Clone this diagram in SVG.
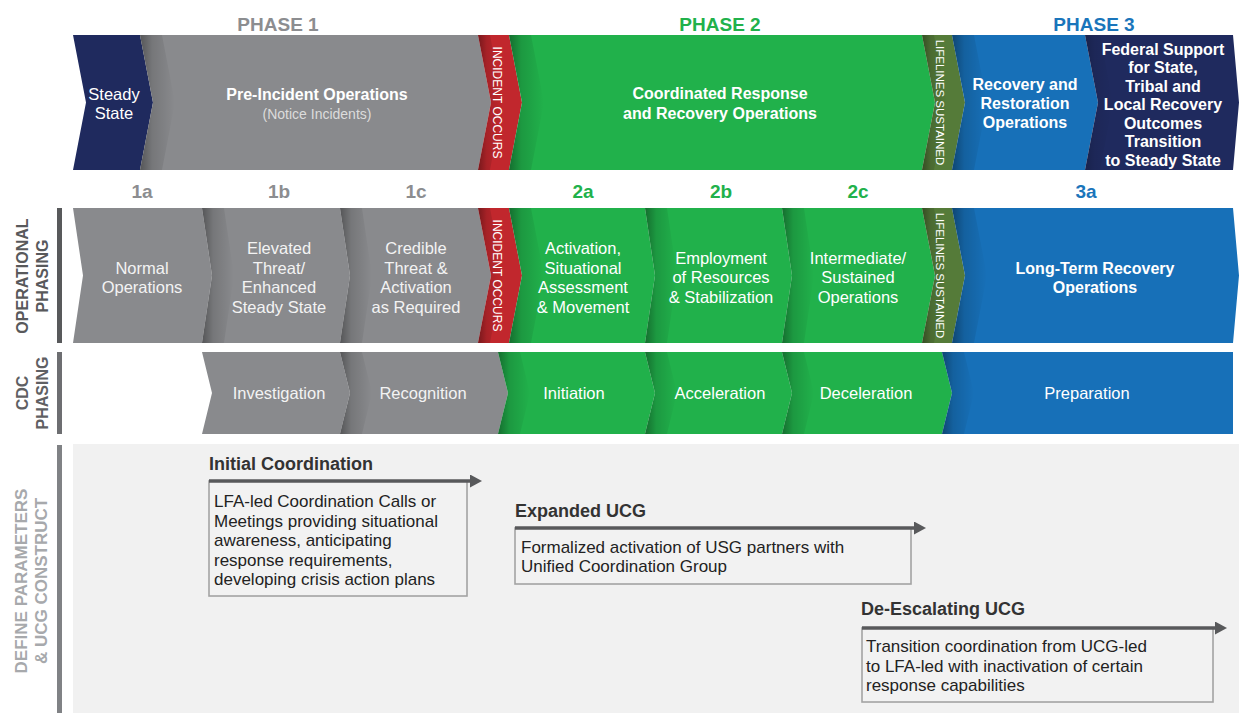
<svg xmlns="http://www.w3.org/2000/svg" width="1239" height="713" viewBox="0 0 1239 713">
<defs>
<linearGradient id="sh" x1="0" y1="0" x2="1" y2="0">
<stop offset="0" stop-color="#000" stop-opacity="0.38"/>
<stop offset="0.35" stop-color="#000" stop-opacity="0.14"/>
<stop offset="1" stop-color="#000" stop-opacity="0"/>
</linearGradient>
<marker id="ah" markerUnits="userSpaceOnUse" markerWidth="12" markerHeight="13" viewBox="0 0 12 13" refX="0" refY="6.5" orient="auto">
<path d="M0,0 L12,6.5 L0,13 z" fill="#58595b"/>
</marker>
<style>
text{font-family:"Liberation Sans",Arial,sans-serif;}
.navy{fill:#1f2a5e}.gray{fill:#898a8d}.red{fill:#c1272d}.green{fill:#21b14b}.olive{fill:#557b39}.blue{fill:#1770b8}
.sh{fill:url(#sh)}
.w{fill:#ffffff;font-size:16.5px;text-anchor:middle}
.wl{fill:#f3f3f3;font-size:16.5px;text-anchor:middle}
.ws{fill:#ffffff;font-size:16px;font-weight:700;text-anchor:middle}
.band{fill:#ffffff;font-size:12px;text-anchor:middle}
.ph{font-size:19px;font-weight:700;text-anchor:middle}
.sub{font-size:19px;font-weight:700;text-anchor:middle}
.c1{fill:#8c8d90}.c2{fill:#21b14b}.c3{fill:#1a75bb}
.side{font-size:16px;font-weight:700;text-anchor:middle}
.ttl{fill:#333333;font-size:18px;font-weight:700}
.body{fill:#222222;font-size:17px}
.box{fill:#f2f2f2;stroke:#a3a3a3;stroke-width:1.6}
.conn{stroke:#58595b;stroke-width:3.5;fill:none}
</style>
</defs>
<rect x="0" y="0" width="1239" height="713" fill="#ffffff"/>

<g id="phase-headers">
<text class="ph c1" x="278" y="31">PHASE 1</text>
<text class="ph c2" x="720" y="31">PHASE 2</text>
<text class="ph c3" x="1094" y="31">PHASE 3</text>
</g>

<g id="steady-state">
<polygon class="navy" points="73,35 140,35 153,102.5 140,170 73,170 86,102.5"/>
<text class="w"><tspan x="114" y="100">Steady</tspan><tspan x="114" y="119">State</tspan></text>
</g>
<g id="pre-incident">
<polygon class="gray" points="140,35 478,35 491,102.5 478,170 140,170 153,102.5"/>
<polygon class="sh" points="140,35 162,35 175,102.5 162,170 140,170 153,102.5"/>
<text class="ws" x="317" y="100">Pre-Incident Operations</text>
<text x="317" y="119" style="fill:#dcdcdc;font-size:14px;text-anchor:middle">(Notice Incidents)</text>
</g>
<g id="incident-occurs-1">
<polygon class="red" points="478,35 509,35 522,102.5 509,170 478,170 491,102.5"/>
<polygon class="sh" points="478,35 490,35 503,102.5 490,170 478,170 491,102.5"/>
<text class="band" transform="translate(492.5,102.5) rotate(90)" x="0" y="0">INCIDENT OCCURS</text>
</g>
<g id="coordinated-response">
<polygon class="green" points="509,35 922,35 935,102.5 922,170 509,170 522,102.5"/>
<polygon class="sh" points="509,35 531,35 544,102.5 531,170 509,170 522,102.5"/>
<text class="ws"><tspan x="720" y="99">Coordinated Response</tspan><tspan x="720" y="119">and Recovery Operations</tspan></text>
</g>
<g id="lifelines-sustained-1">
<polygon class="olive" points="922,35 952,35 965,102.5 952,170 922,170 935,102.5"/>
<polygon class="sh" points="922,35 934,35 947,102.5 934,170 922,170 935,102.5"/>
<text class="band" transform="translate(936,102.5) rotate(90)" x="0" y="0" style="font-size:11.5px">LIFELINES SUSTAINED</text>
</g>
<g id="recovery-restoration">
<polygon class="blue" points="952,35 1085,35 1098,102.5 1085,170 952,170 965,102.5"/>
<polygon class="sh" points="952,35 974,35 987,102.5 974,170 952,170 965,102.5"/>
<text class="ws"><tspan x="1025" y="90">Recovery and</tspan><tspan x="1025" y="109">Restoration</tspan><tspan x="1025" y="128">Operations</tspan></text>
</g>
<g id="federal-support">
<polygon class="navy" points="1085,35 1233,35 1239,102.5 1233,170 1085,170 1098,102.5"/>
<polygon class="sh" points="1085,35 1100,35 1113,102.5 1100,170 1085,170 1098,102.5" opacity="0.5"/>
<text class="ws"><tspan x="1163" y="54.5">Federal Support</tspan><tspan x="1163" y="73">for State,</tspan><tspan x="1163" y="91.5">Tribal and</tspan><tspan x="1163" y="110">Local Recovery</tspan><tspan x="1163" y="128.5">Outcomes</tspan><tspan x="1163" y="147">Transition</tspan><tspan x="1163" y="165.5">to Steady State</tspan></text>
</g>

<g id="sub-labels">
<text class="sub c1" x="142" y="198">1a</text>
<text class="sub c1" x="279" y="198">1b</text>
<text class="sub c1" x="416" y="198">1c</text>
<text class="sub c2" x="583" y="198">2a</text>
<text class="sub c2" x="721" y="198">2b</text>
<text class="sub c2" x="858" y="198">2c</text>
<text class="sub c3" x="1086" y="198">3a</text>
</g>

<g id="label-operational">
<rect x="57" y="208" width="5" height="135" fill="#58595b"/>
<text class="side" transform="translate(0,276) rotate(-90)" style="fill:#58595b"><tspan x="0" y="28">OPERATIONAL</tspan><tspan x="0" y="48">PHASING</tspan></text>
</g>
<g id="label-cdc">
<rect x="57" y="352" width="5" height="82" fill="#6d6e71"/>
<text class="side" transform="translate(0,393) rotate(-90)" style="fill:#5f6063"><tspan x="0" y="28">CDC</tspan><tspan x="0" y="48">PHASING</tspan></text>
</g>
<g id="label-define">
<rect x="57" y="445" width="5" height="268" fill="#808285"/>
<text class="side" transform="translate(0,581) rotate(-90)" style="fill:#a7a9ac;font-size:17px"><tspan x="0" y="27">DEFINE PARAMETERS</tspan><tspan x="0" y="47">&amp; UCG CONSTRUCT</tspan></text>
</g>

<g id="normal-operations">
<polygon class="gray" points="73,208 202,208 212,275.5 202,343 73,343 83,275.5"/>
<text class="wl"><tspan x="142" y="273.5">Normal</tspan><tspan x="142" y="293">Operations</tspan></text>
</g>
<g id="elevated-threat">
<polygon class="gray" points="202,208 340,208 350,275.5 340,343 202,343 212,275.5"/>
<polygon class="sh" points="202,208 224,208 234,275.5 224,343 202,343 212,275.5"/>
<text class="wl"><tspan x="279" y="254">Elevated</tspan><tspan x="279" y="273.5">Threat/</tspan><tspan x="279" y="293">Enhanced</tspan><tspan x="279" y="312.5">Steady State</tspan></text>
</g>
<g id="credible-threat">
<polygon class="gray" points="340,208 478,208 491,275.5 478,343 340,343 350,275.5"/>
<polygon class="sh" points="340,208 362,208 372,275.5 362,343 340,343 350,275.5"/>
<text class="wl"><tspan x="416" y="254">Credible</tspan><tspan x="416" y="273.5">Threat &amp;</tspan><tspan x="416" y="293">Activation</tspan><tspan x="416" y="312.5">as Required</tspan></text>
</g>
<g id="incident-occurs-2">
<polygon class="red" points="478,208 509,208 522,275.5 509,343 478,343 491,275.5"/>
<polygon class="sh" points="478,208 490,208 503,275.5 490,343 478,343 491,275.5"/>
<text class="band" transform="translate(492.5,275.5) rotate(90)" x="0" y="0">INCIDENT OCCURS</text>
</g>
<g id="activation">
<polygon class="green" points="509,208 645,208 655,275.5 645,343 509,343 522,275.5"/>
<polygon class="sh" points="509,208 531,208 544,275.5 531,343 509,343 522,275.5"/>
<text class="w"><tspan x="583" y="254">Activation,</tspan><tspan x="583" y="273.5">Situational</tspan><tspan x="583" y="293">Assessment</tspan><tspan x="583" y="312.5">&amp; Movement</tspan></text>
</g>
<g id="employment">
<polygon class="green" points="645,208 782,208 792,275.5 782,343 645,343 655,275.5"/>
<polygon class="sh" points="645,208 667,208 677,275.5 667,343 645,343 655,275.5"/>
<text class="w"><tspan x="721" y="263.5">Employment</tspan><tspan x="721" y="283">of Resources</tspan><tspan x="721" y="302.5">&amp; Stabilization</tspan></text>
</g>
<g id="intermediate">
<polygon class="green" points="782,208 922,208 935,275.5 922,343 782,343 792,275.5"/>
<polygon class="sh" points="782,208 804,208 814,275.5 804,343 782,343 792,275.5"/>
<text class="w"><tspan x="858" y="263.5">Intermediate/</tspan><tspan x="858" y="283">Sustained</tspan><tspan x="858" y="302.5">Operations</tspan></text>
</g>
<g id="lifelines-sustained-2">
<polygon class="olive" points="922,208 952,208 965,275.5 952,343 922,343 935,275.5"/>
<polygon class="sh" points="922,208 934,208 947,275.5 934,343 922,343 935,275.5"/>
<text class="band" transform="translate(936,275.5) rotate(90)" x="0" y="0" style="font-size:11.5px">LIFELINES SUSTAINED</text>
</g>
<g id="long-term-recovery">
<polygon class="blue" points="952,208 1233,208 1239,275.5 1233,343 952,343 965,275.5"/>
<polygon class="sh" points="952,208 974,208 987,275.5 974,343 952,343 965,275.5"/>
<text class="ws"><tspan x="1095" y="273.5">Long-Term Recovery</tspan><tspan x="1095" y="292.5">Operations</tspan></text>
</g>

<g id="investigation">
<polygon class="gray" points="202,352 340,352 350,393 340,434 202,434 212,393"/>
<text class="wl" x="279" y="399">Investigation</text>
</g>
<g id="recognition">
<polygon class="gray" points="340,352 498,352 508,393 498,434 340,434 350,393"/>
<polygon class="sh" points="340,352 362,352 372,393 362,434 340,434 350,393"/>
<text class="wl" x="423" y="399">Recognition</text>
</g>
<g id="initiation">
<polygon class="green" points="498,352 645,352 655,393 645,434 498,434 508,393"/>
<polygon class="sh" points="498,352 520,352 530,393 520,434 498,434 508,393"/>
<text class="w" x="574" y="399">Initiation</text>
</g>
<g id="acceleration">
<polygon class="green" points="645,352 782,352 792,393 782,434 645,434 655,393"/>
<polygon class="sh" points="645,352 667,352 677,393 667,434 645,434 655,393"/>
<text class="w" x="720" y="399">Acceleration</text>
</g>
<g id="deceleration">
<polygon class="green" points="782,352 942,352 952,393 942,434 782,434 792,393"/>
<polygon class="sh" points="782,352 804,352 814,393 804,434 782,434 792,393"/>
<text class="w" x="866" y="399">Deceleration</text>
</g>
<g id="preparation">
<polygon class="blue" points="942,352 1233,352 1233,434 942,434 952,393"/>
<polygon class="sh" points="942,352 964,352 974,393 964,434 942,434 952,393"/>
<text class="w" x="1087" y="399">Preparation</text>
</g>

<rect id="ucg-area" x="73" y="444" width="1166" height="269" fill="#f1f1f1"/>

<g id="initial-coordination">
<text class="ttl" x="209" y="470">Initial Coordination</text>
<rect class="box" x="209" y="481" width="258" height="115"/>
<text class="body"><tspan x="214" y="507">LFA-led Coordination Calls or</tspan><tspan x="214" y="526.5">Meetings providing situational</tspan><tspan x="214" y="546">awareness, anticipating</tspan><tspan x="214" y="565.5">response requirements,</tspan><tspan x="214" y="585">developing crisis action plans</tspan></text>
</g>
<g id="expanded-ucg">
<text class="ttl" x="515" y="517">Expanded UCG</text>
<rect class="box" x="515" y="528" width="396" height="56"/>
<text class="body"><tspan x="521" y="552.5">Formalized activation of USG partners with</tspan><tspan x="521" y="572">Unified Coordination Group</tspan></text>
</g>
<g id="de-escalating-ucg">
<text class="ttl" x="861" y="615">De-Escalating UCG</text>
<rect class="box" x="862" y="628" width="351" height="74"/>
<text class="body"><tspan x="866" y="652">Transition coordination from UCG-led</tspan><tspan x="866" y="671.5">to LFA-led with inactivation of certain</tspan><tspan x="866" y="691">response capabilities</tspan></text>
</g>

<g id="connectors">
<line class="conn" x1="209" y1="481" x2="470" y2="481" marker-end="url(#ah)"/>
<line class="conn" x1="515" y1="528" x2="914" y2="528" marker-end="url(#ah)"/>
<line class="conn" x1="862" y1="628" x2="1215" y2="628" marker-end="url(#ah)"/>
</g>
</svg>
